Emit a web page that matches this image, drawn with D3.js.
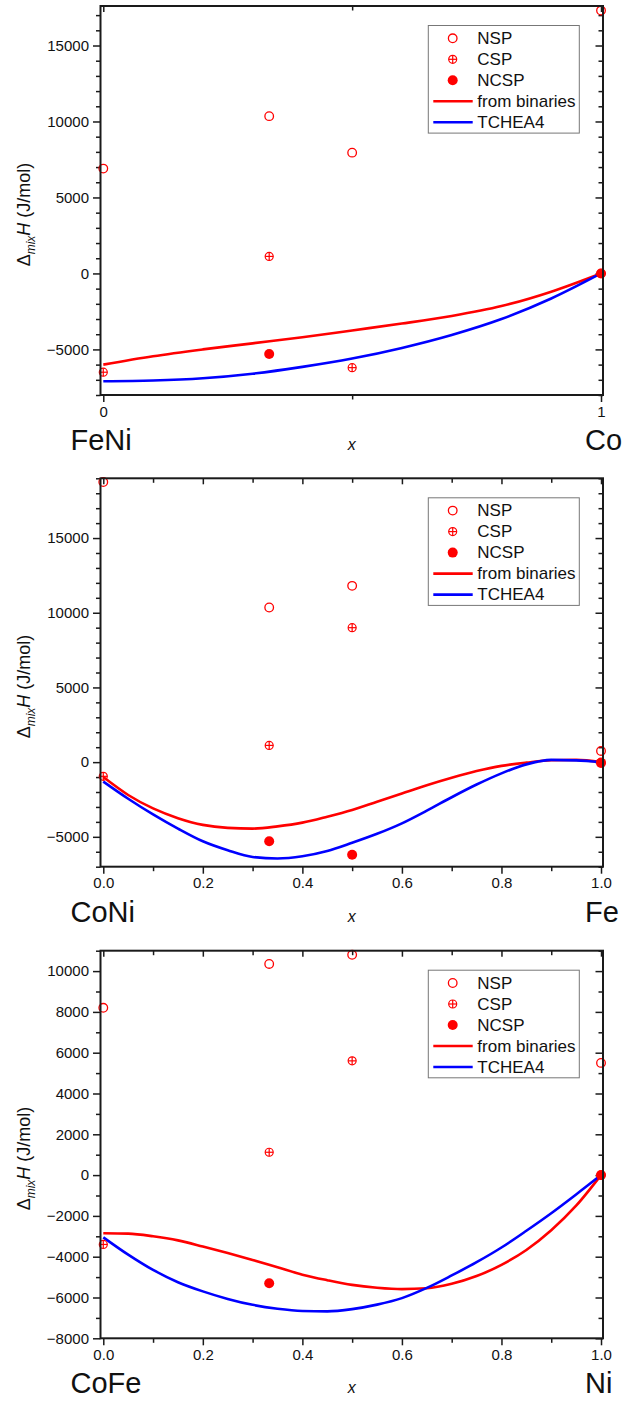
<!DOCTYPE html>
<html>
<head>
<meta charset="utf-8">
<script src="https://cdn.jsdelivr.net/npm/d3@7"></script>
<style>
  html, body { margin: 0; padding: 0; background: #fff; }
  svg { display: block; font-family: "Liberation Sans", Arial, sans-serif; }
</style>
</head>
<body>
<svg id="chart" width="625" height="1402"></svg>
<script>
// ---------- data ----------
const legendLabels = ["NSP", "CSP", "NCSP", "from binaries", "TCHEA4"];

// Panel 1: FeNi - Co
const p1Left = "FeNi", p1Right = "Co";
const p1NSP  = [[0, 6900], [1/3, 10350], [0.5, 7950], [1, 17300]];
const p1CSP  = [[0, -6500], [1/3, 1120], [0.5, -6200], [1, 0]];
const p1NCSP = [[1/3, -5300], [1, 0]];
const p1CurveX = [0, 0.1, 0.2, 0.3, 0.4, 0.5, 0.6, 0.7, 0.8, 0.9, 1.0];
const p1Binaries = [-6000, -5450, -5000, -4600, -4200, -3750, -3300, -2800, -2150, -1200, 0];
const p1TCHEA4   = [-7100, -7050, -6900, -6600, -6150, -5600, -4900, -4050, -3000, -1650, 0];
const p1YTicks = [-5000, 0, 5000, 10000, 15000];
const p1XTicks = [0, 1];
const p1XTickLabels = ["0", "1"];

// Panel 2: CoNi - Fe
const p2Left = "CoNi", p2Right = "Fe";
const p2NSP  = [[0, 18750], [1/3, 10350], [0.5, 11800], [1, 750]];
const p2CSP  = [[0, -950], [1/3, 1120], [0.5, 9000], [1, 0]];
const p2NCSP = [[1/3, -5300], [0.5, -6200], [1, -50]];
const p2CurveX = [0, 0.05, 0.1, 0.15, 0.2, 0.25, 0.3, 0.35, 0.4, 0.45, 0.5, 0.55, 0.6, 0.65, 0.7, 0.75, 0.8, 0.85, 0.9, 0.95, 1.0];
const p2Binaries = [-1000, -2200, -3100, -3750, -4200, -4400, -4450, -4300, -4050, -3650, -3200, -2650, -2100, -1550, -1050, -600, -250, -30, 130, 150, 0];
const p2TCHEA4   = [-1300, -2450, -3500, -4450, -5300, -5900, -6350, -6450, -6300, -5950, -5400, -4800, -4100, -3250, -2350, -1500, -750, -150, 150, 120, 0];
const p2YTicks = [-5000, 0, 5000, 10000, 15000];
const p2XTicks = [0, 0.2, 0.4, 0.6, 0.8, 1.0];
const p2XTickLabels = ["0.0", "0.2", "0.4", "0.6", "0.8", "1.0"];

// Panel 3: CoFe - Ni
const p3Left = "CoFe", p3Right = "Ni";
const p3NSP  = [[0, 8200], [1/3, 10350], [0.5, 10800], [1, 5500]];
const p3CSP  = [[0, -3400], [1/3, 1120], [0.5, 5600], [1, 0]];
const p3NCSP = [[1/3, -5300], [1, 0]];
const p3CurveX = [0, 0.05, 0.1, 0.15, 0.2, 0.25, 0.3, 0.35, 0.4, 0.45, 0.5, 0.55, 0.6, 0.65, 0.7, 0.75, 0.8, 0.85, 0.9, 0.95, 1.0];
const p3Binaries = [-2850, -2870, -3000, -3200, -3500, -3820, -4160, -4520, -4880, -5150, -5380, -5520, -5590, -5550, -5330, -4950, -4400, -3670, -2700, -1500, 0];
const p3TCHEA4   = [-3050, -3900, -4650, -5250, -5700, -6070, -6360, -6550, -6660, -6680, -6570, -6350, -6030, -5530, -4920, -4270, -3550, -2730, -1870, -950, 0];
const p3YTicks = [-8000, -6000, -4000, -2000, 0, 2000, 4000, 6000, 8000, 10000];
const p3XTicks = [0, 0.2, 0.4, 0.6, 0.8, 1.0];
const p3XTickLabels = ["0.0", "0.2", "0.4", "0.6", "0.8", "1.0"];

// ---------- layout ----------
const svg = d3.select("#chart");
const RED = "#ff0000", BLUE = "#0000ff", AX = "#1a1a1a";
const plotL = 100.5, plotR = 603;

const panels = [
  { top: 6, bottom: 395, yDom: [-8000, 17600], yTicks: p1YTicks, yMinorStep: 1000,
    xTicks: p1XTicks, xLabels: p1XTickLabels, xMinor: [0.5],
    nsp: p1NSP, csp: p1CSP, ncsp: p1NCSP, cx: p1CurveX, bin: p1Binaries, tc: p1TCHEA4,
    left: p1Left, right: p1Right },
  { top: 478.3, bottom: 866.7, yDom: [-7000, 19000], yTicks: p2YTicks, yMinorStep: 1000,
    xTicks: p2XTicks, xLabels: p2XTickLabels, xMinor: [0.1, 0.3, 0.5, 0.7, 0.9],
    nsp: p2NSP, csp: p2CSP, ncsp: p2NCSP, cx: p2CurveX, bin: p2Binaries, tc: p2TCHEA4,
    left: p2Left, right: p2Right },
  { top: 950.7, bottom: 1338.3, yDom: [-8000, 11000], yTicks: p3YTicks, yMinorStep: 1000,
    xTicks: p3XTicks, xLabels: p3XTickLabels, xMinor: [0.1, 0.3, 0.5, 0.7, 0.9],
    nsp: p3NSP, csp: p3CSP, ncsp: p3NCSP, cx: p3CurveX, bin: p3Binaries, tc: p3TCHEA4,
    left: p3Left, right: p3Right }
];

function drawCSP(g, cx, cy, r) {
  g.append("circle").attr("cx", cx).attr("cy", cy).attr("r", r)
    .attr("fill", "none").attr("stroke", RED).attr("stroke-width", 1.2);
  g.append("line").attr("x1", cx - r).attr("x2", cx + r).attr("y1", cy).attr("y2", cy)
    .attr("stroke", RED).attr("stroke-width", 1.2);
  g.append("line").attr("x1", cx).attr("x2", cx).attr("y1", cy - r).attr("y2", cy + r)
    .attr("stroke", RED).attr("stroke-width", 1.2);
}

panels.forEach(p => {
  const x = d3.scaleLinear().domain([-0.0056, 1.004]).range([plotL, plotR]);
  const y = d3.scaleLinear().domain(p.yDom).range([p.bottom, p.top]);
  const g = svg.append("g");

  const minorY = d3.range(Math.ceil(p.yDom[0] / p.yMinorStep) * p.yMinorStep, p.yDom[1] + 1, p.yMinorStep)
    .filter(v => !p.yTicks.includes(v));

  // left axis
  const leftAxis = d3.axisLeft(y).tickValues(p.yTicks).tickSize(7.5).tickSizeOuter(0)
    .tickPadding(4).tickFormat(d3.format("d"));
  const la = g.append("g").attr("transform", `translate(${plotL},0)`).call(leftAxis);
  la.select(".domain").remove();
  la.selectAll("line").attr("stroke", AX).attr("stroke-width", 1.5);
  la.selectAll("text").attr("font-size", 15).attr("fill", "#111")
    .attr("font-family", "'Liberation Sans', Arial, sans-serif");
  const lm = g.append("g").attr("transform", `translate(${plotL},0)`)
    .call(d3.axisLeft(y).tickValues(minorY).tickSize(4.5).tickFormat(""));
  lm.select(".domain").remove();
  lm.selectAll("line").attr("stroke", AX).attr("stroke-width", 1.5);

  // right axis (inward ticks)
  const ra = g.append("g").attr("transform", `translate(${plotR},0)`)
    .call(d3.axisRight(y).tickValues(p.yTicks).tickSize(-7.5).tickFormat(""));
  ra.select(".domain").remove();
  ra.selectAll("line").attr("stroke", AX).attr("stroke-width", 1.5);
  const rm = g.append("g").attr("transform", `translate(${plotR},0)`)
    .call(d3.axisRight(y).tickValues(minorY).tickSize(-4.5).tickFormat(""));
  rm.select(".domain").remove();
  rm.selectAll("line").attr("stroke", AX).attr("stroke-width", 1.5);

  // bottom axis
  const ba = g.append("g").attr("transform", `translate(0,${p.bottom})`)
    .call(d3.axisBottom(x).tickValues(p.xTicks).tickSize(7)
      .tickFormat((d, i) => p.xLabels[i]).tickPadding(4));
  ba.select(".domain").remove();
  ba.selectAll("line").attr("stroke", AX).attr("stroke-width", 1.5);
  ba.selectAll("text").attr("font-size", 15).attr("fill", "#111")
    .attr("font-family", "'Liberation Sans', Arial, sans-serif");
  const bm = g.append("g").attr("transform", `translate(0,${p.bottom})`)
    .call(d3.axisBottom(x).tickValues(p.xMinor).tickSize(4.5).tickFormat(""));
  bm.select(".domain").remove();
  bm.selectAll("line").attr("stroke", AX).attr("stroke-width", 1.5);

  // top axis (inward)
  const ta = g.append("g").attr("transform", `translate(0,${p.top})`)
    .call(d3.axisTop(x).tickValues(p.xTicks).tickSize(-6).tickFormat(""));
  ta.select(".domain").remove();
  ta.selectAll("line").attr("stroke", AX).attr("stroke-width", 1.5);
  const tm = g.append("g").attr("transform", `translate(0,${p.top})`)
    .call(d3.axisTop(x).tickValues(p.xMinor).tickSize(-4.5).tickFormat(""));
  tm.select(".domain").remove();
  tm.selectAll("line").attr("stroke", AX).attr("stroke-width", 1.5);

  // curves
  const line = d3.line().x(d => x(d[0])).y(d => y(d[1])).curve(d3.curveMonotoneX);
  g.append("path").datum(p.cx.map((v, i) => [v, p.bin[i]]))
    .attr("d", line).attr("fill", "none").attr("stroke", RED).attr("stroke-width", 2.6);
  g.append("path").datum(p.cx.map((v, i) => [v, p.tc[i]]))
    .attr("d", line).attr("fill", "none").attr("stroke", BLUE).attr("stroke-width", 2.6);

  // markers
  p.nsp.forEach(d => g.append("circle").attr("cx", x(d[0])).attr("cy", y(d[1])).attr("r", 4.3)
    .attr("fill", "none").attr("stroke", RED).attr("stroke-width", 1.3));
  p.csp.forEach(d => drawCSP(g, x(d[0]), y(d[1]), 4));
  p.ncsp.forEach(d => g.append("circle").attr("cx", x(d[0])).attr("cy", y(d[1])).attr("r", 5)
    .attr("fill", RED));

  // frame
  g.append("rect").attr("x", plotL).attr("y", p.top).attr("width", plotR - plotL)
    .attr("height", p.bottom - p.top).attr("fill", "none").attr("stroke", AX).attr("stroke-width", 2);

  // legend
  const lgX = 428.3, lgY = p.top + 19.5;
  const lg = g.append("g");
  lg.append("rect").attr("x", lgX).attr("y", lgY).attr("width", 151).attr("height", 107.6)
    .attr("fill", "#fff").attr("stroke", "#777").attr("stroke-width", 1);
  legendLabels.forEach((lab, i) => {
    const ry = lgY + 12.8 + 21 * i;
    if (i === 0) lg.append("circle").attr("cx", 452.7).attr("cy", ry).attr("r", 4.3)
      .attr("fill", "none").attr("stroke", RED).attr("stroke-width", 1.3);
    if (i === 1) drawCSP(lg, 452.7, ry, 4);
    if (i === 2) lg.append("circle").attr("cx", 452.7).attr("cy", ry).attr("r", 5).attr("fill", RED);
    if (i >= 3) lg.append("line").attr("x1", 433.3).attr("x2", 472.7).attr("y1", ry).attr("y2", ry)
      .attr("stroke", i === 3 ? RED : BLUE).attr("stroke-width", 2.6);
    lg.append("text").attr("x", 477.3).attr("y", ry).attr("dominant-baseline", "central")
      .attr("font-size", 17).attr("fill", "#111").text(lab);
  });

  // x title
  g.append("text").attr("x", 351.7).attr("y", p.bottom + 55).attr("text-anchor", "middle")
    .attr("font-size", 16).attr("font-style", "italic").attr("fill", "#111").text("x");
  // component labels
  g.append("text").attr("x", 70.5).attr("y", p.bottom + 55).attr("font-size", 29)
    .attr("fill", "#111").text(p.left);
  g.append("text").attr("x", 585).attr("y", p.bottom + 55).attr("font-size", 29)
    .attr("fill", "#111").text(p.right);

  // y title
  const cy = (p.top + p.bottom) / 2 + 14;
  const yt = g.append("text").attr("transform", `translate(29.5,${cy}) rotate(-90)`)
    .attr("text-anchor", "middle").attr("font-size", 18).attr("fill", "#111");
  yt.append("tspan").text("Δ");
  yt.append("tspan").attr("font-size", 12).attr("font-style", "italic").attr("dy", 5).text("mix");
  yt.append("tspan").attr("font-style", "italic").attr("dy", -5).text("H");
  yt.append("tspan").text(" (J/mol)");
});
</script>
</body>
</html>
